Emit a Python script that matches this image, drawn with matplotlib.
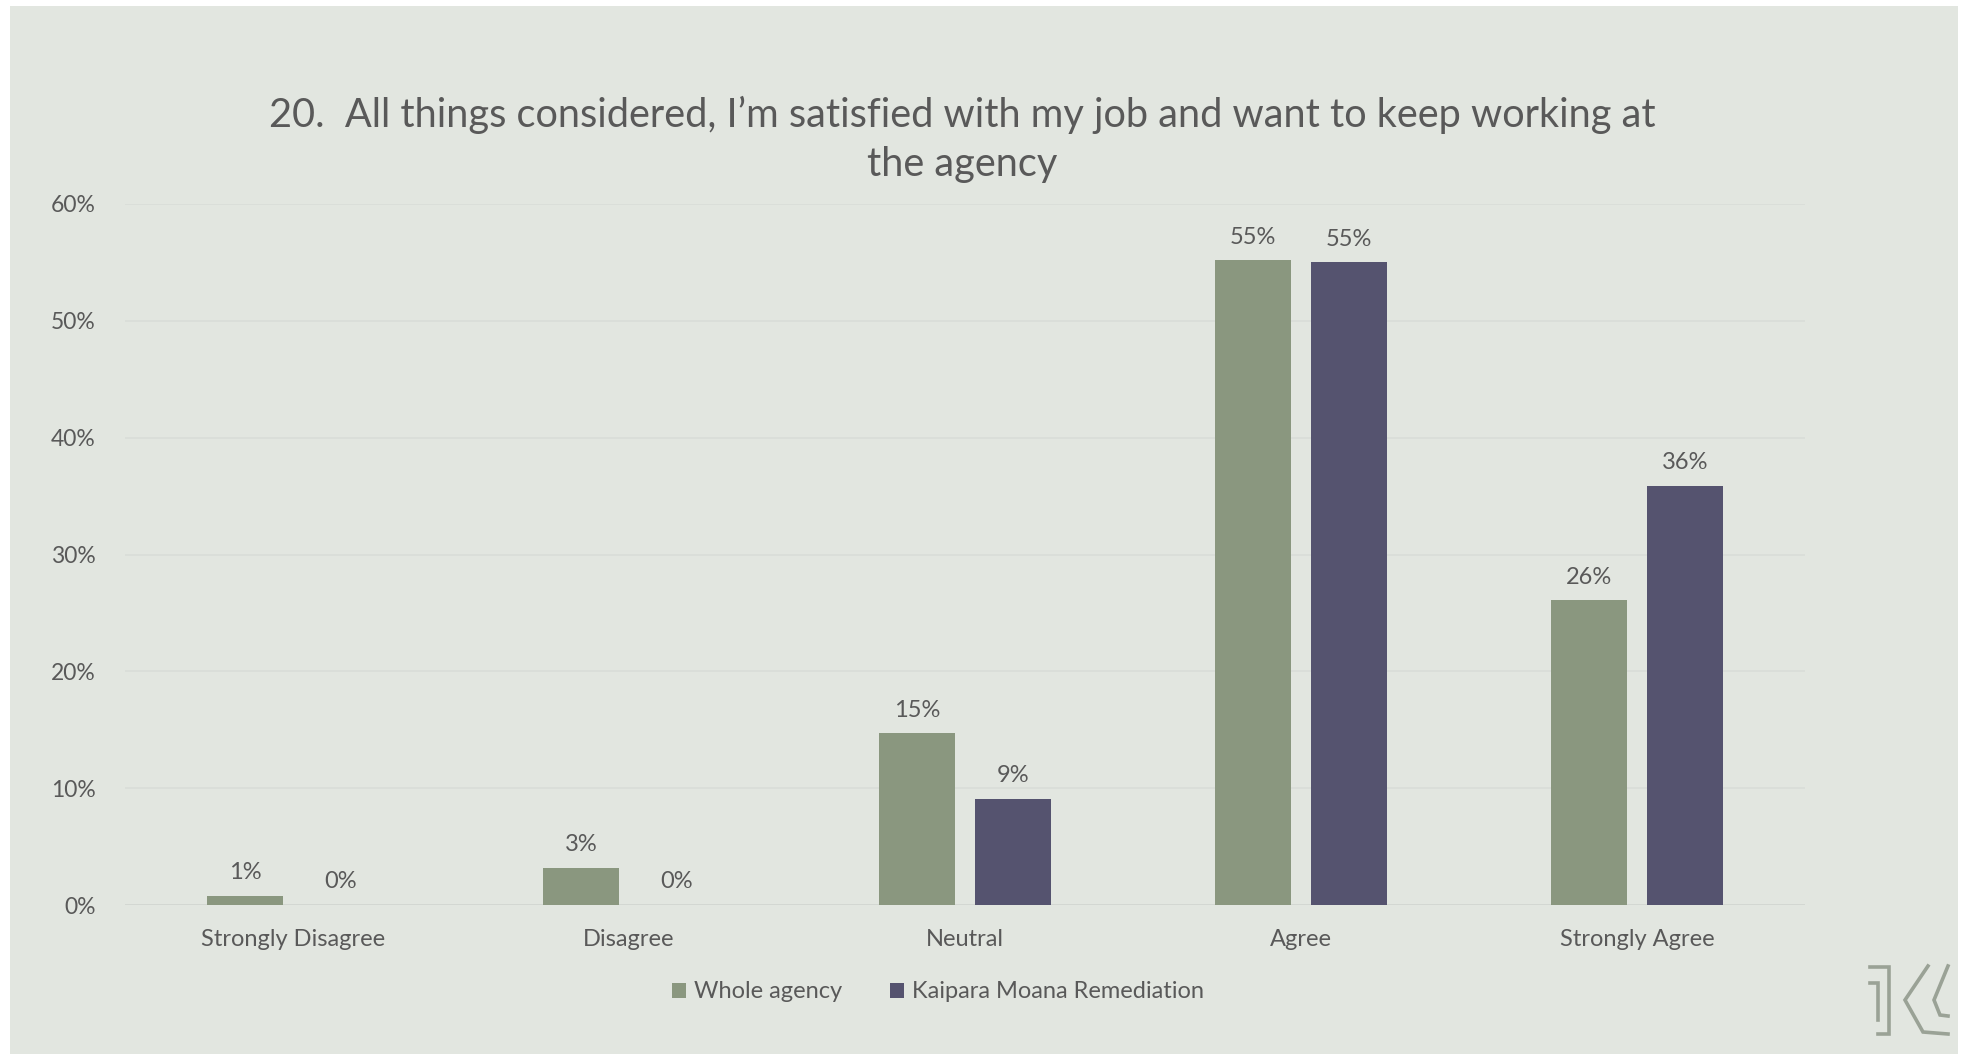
import numpy as np
import matplotlib.pyplot as plt
from matplotlib.patches import Rectangle
from matplotlib.lines import Line2D

categories = ["Strongly Disagree", "Disagree", "Neutral", "Agree", "Strongly Agree"]
whole_agency = [0.8, 3.2, 14.7, 55.2, 26.1]
kaipara = [0.0, 0.0, 9.1, 55.0, 35.9]
whole_labels = ["1%", "3%", "15%", "55%", "26%"]
kaipara_labels = ["0%", "0%", "9%", "55%", "36%"]
series_names = ["Whole agency", "Kaipara Moana Remediation"]
yticks = [0, 10, 20, 30, 40, 50, 60]

bg = "#e2e6e0"
green = "#8a977f"
purple = "#55536f"
txt = "#595959"
W, H = 1966, 1054

plt.rcParams['font.family'] = ['Lato', 'DejaVu Sans']

fig = plt.figure(figsize=(W / 100, H / 100), dpi=100)
fig.patch.set_facecolor("white")
# grey slide background with thin white border
fig.patches.append(Rectangle((10 / W, 0), (1958 - 10) / W, 1 - 6 / H,
                             transform=fig.transFigure, facecolor=bg,
                             edgecolor="none", zorder=-10))

ax = fig.add_axes([125 / W, 1 - 905 / H, (1805 - 125) / W, (905 - 204) / H])
ax.set_facecolor("none")

x = np.arange(len(categories))
bw = 0.224
off = 0.143
b1 = ax.bar(x - off, whole_agency, bw, color=green, label=series_names[0], zorder=3)
b2 = ax.bar(x + off, kaipara, bw, color=purple, label=series_names[1], zorder=3)

for bars, labels in ((b1, whole_labels), (b2, kaipara_labels)):
    for rect, lab in zip(bars, labels):
        ax.annotate(lab, (rect.get_x() + rect.get_width() / 2, rect.get_height()),
                    xytext=(0, 9), textcoords="offset points", ha="center", va="bottom",
                    fontsize=17, color=txt)

ax.set_xlim(-0.5, len(categories) - 0.5)
ax.set_ylim(0, 60)
ax.set_yticks(yticks)
ax.set_yticklabels([f"{v}%" for v in yticks])
ax.set_xticks(x)
ax.set_xticklabels(categories)
ax.tick_params(axis="both", length=0, colors=txt, labelsize=16.5)
ax.tick_params(axis="x", labelsize=17, pad=17)
ax.tick_params(axis="y", pad=21)
ax.grid(axis="y", color="#d9ddd8", linewidth=1.2, zorder=0)
for s in ax.spines.values():
    s.set_visible(False)
ax.axhline(0, color="#d3d7d2", linewidth=1.4, zorder=2)

fig.text(962 / W, 1 - 139 / H,
         "20.  All things considered, I\u2019m satisfied with my job and want to keep working at\nthe agency",
         ha="center", va="center", fontsize=28.6, color=txt, linespacing=1.4)

leg = fig.legend(loc="center", bbox_to_anchor=(938 / W, 1 - 992 / H), ncol=2,
                 frameon=False, fontsize=17, handlelength=0.6, handleheight=0.6,
                 handletextpad=0.35, columnspacing=2.0, labelcolor=txt)

# logo
logo_col = "#9aa296"
def pline(pts):
    xs = [p[0] / W for p in pts]
    ys = [1 - p[1] / H for p in pts]
    fig.lines.append(Line2D(xs, ys, transform=fig.transFigure, color=logo_col,
                            linewidth=2.6, solid_joinstyle="miter"))

pline([(1870, 967), (1889, 967), (1889, 1034), (1878, 1034)])
pline([(1870, 983), (1878, 983), (1878, 1020)])
pline([(1928, 966), (1905, 1000), (1923, 1032), (1948, 1034)])
pline([(1948, 966), (1934, 1000), (1940, 1015), (1948, 1016)])

fig.savefig("out.png", dpi=100, facecolor=fig.get_facecolor())
